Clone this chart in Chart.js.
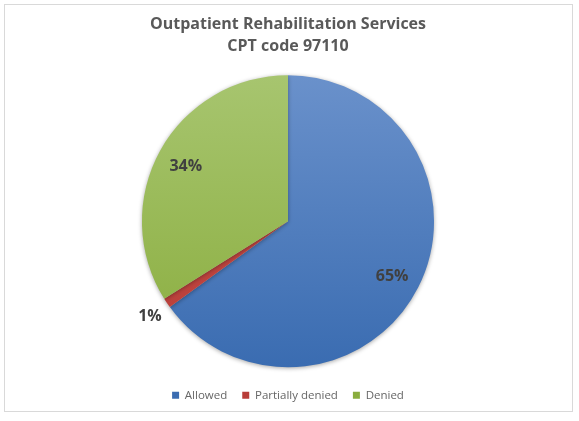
<!DOCTYPE html>
<html>
<head>
<meta charset="utf-8">
<script src="https://cdn.jsdelivr.net/npm/chart.js@4.4.0/dist/chart.umd.min.js"></script>
<style>
  html, body { margin: 0; padding: 0; background: #fff; }
  #wrap { position: absolute; left: 0; top: 0; width: 579px; height: 421px; }
</style>
</head>
<body>
<div id="wrap"><canvas id="myChart"></canvas></div>
<script>
var categories = ["Allowed", "Partially denied", "Denied"];
var shares = [65, 1.1, 33.9];
var topColors = ["#6a91cb", "#c9504b", "#a7c56f"];
var bottomColors = ["#3a6cb1", "#b83d38", "#8aad3e"];

function sliceFill(context) {
    var chart = context.chart;
    var area = chart.chartArea;
    if (!area) return topColors[context.dataIndex];
    var g = chart.ctx.createLinearGradient(0, area.top, 0, area.bottom);
    g.addColorStop(0, topColors[context.dataIndex]);
    g.addColorStop(1, bottomColors[context.dataIndex]);
    return g;
}

// light grey frame round the whole chart
var framePlugin = {
    id: 'frame',
    beforeDraw: function (chart) {
        var c = chart.ctx;
        c.save();
        c.strokeStyle = '#d9d9d9';
        c.lineWidth = 1;
        c.strokeRect(4.5, 4.5, 568, 407);
        c.restore();
    }
};

// soft shadow under the pie
var shadowPlugin = {
    id: 'pieShadow',
    beforeDatasetsDraw: function (chart) {
        var c = chart.ctx;
        c.save();
        c.shadowColor = 'rgba(0,0,0,0.35)';
        c.shadowBlur = 4;
        c.shadowOffsetX = 0;
        c.shadowOffsetY = 1;
    },
    afterDatasetsDraw: function (chart) {
        chart.ctx.restore();
    }
};

// percentage labels, inside the slice or just outside for thin ones
var labelPlugin = {
    id: 'pctLabels',
    afterDatasetsDraw: function (chart) {
        var c = chart.ctx;
        var meta = chart.getDatasetMeta(0);
        var data = chart.data.datasets[0].data;
        var total = data.reduce(function (a, b) { return a + b; }, 0);
        c.save();
        c.font = 'bold 16px "Open Sans", sans-serif';
        c.fillStyle = '#404040';
        c.textAlign = 'center';
        c.textBaseline = 'middle';
        meta.data.forEach(function (arc, i) {
            var pct = data[i] / total * 100;
            var mid = (arc.startAngle + arc.endAngle) / 2;
            var r = pct < 5 ? arc.outerRadius * 1.14 : arc.outerRadius * 0.8;
            var x = arc.x + Math.cos(mid) * r;
            var y = arc.y + Math.sin(mid) * r + 2;
            c.fillText(Math.round(pct) + '%', x, y);
        });
        c.restore();
    }
};

var ctx = document.getElementById("myChart");
var myChart = new Chart(ctx, {
    type: 'pie',
    data: {
        labels: categories,
        datasets: [{
            data: shares,
            backgroundColor: sliceFill,
            borderWidth: 0
        }]
    },
    options: {
        responsive: true,
        maintainAspectRatio: false,
        animation: false,
        layout: {
            padding: { top: 0, bottom: 10, left: 0, right: 3 }
        },
        plugins: {
            title: {
                display: true,
                text: ['Outpatient Rehabilitation Services', 'CPT code 97110'],
                color: '#595959',
                font: { family: '"Open Sans", sans-serif', size: 16, weight: 'bold', lineHeight: 1.35 },
                padding: { top: 14, bottom: 18 }
            },
            legend: {
                position: 'bottom',
                // empty title only adds a gap between pie and legend
                title: {
                    display: true,
                    text: '',
                    font: { size: 6, lineHeight: 1.2 },
                    padding: 0
                },
                labels: {
                    boxWidth: 7,
                    boxHeight: 7,
                    padding: 15,
                    color: '#595959',
                    font: { family: '"Open Sans", sans-serif', size: 11.5 },
                    generateLabels: function (chart) {
                        return categories.map(function (name, i) {
                            return {
                                text: name,
                                fillStyle: bottomColors[i],
                                strokeStyle: bottomColors[i],
                                lineWidth: 0,
                                hidden: false,
                                index: i
                            };
                        });
                    }
                }
            },
            tooltip: { enabled: false }
        }
    },
    plugins: [framePlugin, shadowPlugin, labelPlugin]
});
</script>
</body>
</html>
